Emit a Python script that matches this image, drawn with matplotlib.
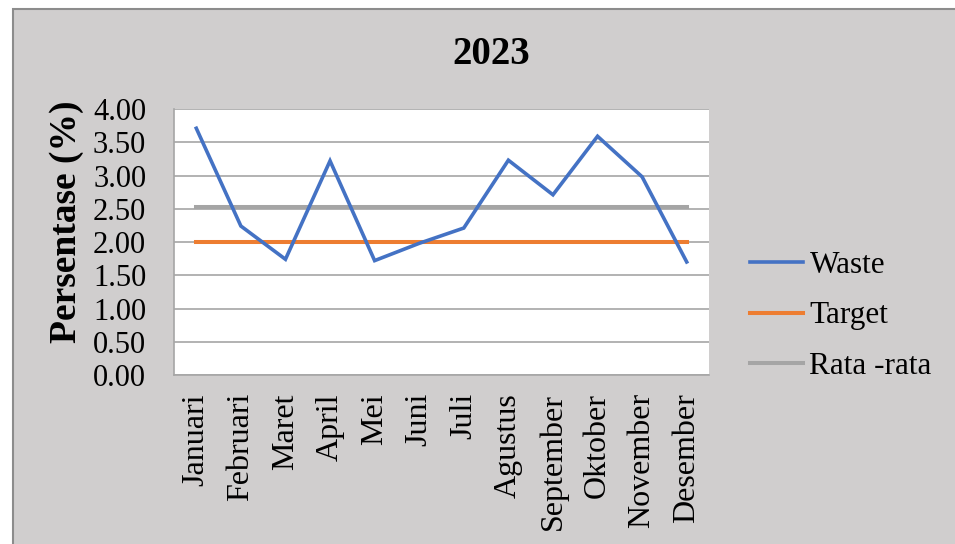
import matplotlib
matplotlib.use("Agg")
import matplotlib.pyplot as plt
from matplotlib.patches import Rectangle

months = ["Januari", "Februari", "Maret", "April", "Mei", "Juni", "Juli",
          "Agustus", "September", "Oktober", "November", "Desember"]
waste = [3.71, 2.24, 1.74, 3.22, 1.72, 1.98, 2.21, 3.23, 2.71, 3.59, 2.98, 1.70]
target = [2.00] * 12
rata = [2.52] * 12
yticks = [0.0, 0.5, 1.0, 1.5, 2.0, 2.5, 3.0, 3.5, 4.0]

plt.rcParams['font.family'] = ['Liberation Serif', 'DejaVu Serif']

W, H = 955, 544
fig = plt.figure(figsize=(W / 100, H / 100), dpi=100)
fig.patch.set_facecolor('white')
bg = Rectangle((13 / W, -0.01), 1.02 - 13 / W, 1.01 - 9 / H, transform=fig.transFigure,
               facecolor='#D0CECE', edgecolor='#8C8C8C', linewidth=1.5, zorder=-5)
fig.add_artist(bg)

ax = fig.add_axes([174 / W, 1 - 375 / H, (709 - 174) / W, (375 - 109) / H])
ax.set_zorder(2)
ax.set_facecolor('white')
x = list(range(len(months)))
ax.plot(x, waste, color='#4472C4', lw=2.6, label='Waste', zorder=4, solid_joinstyle='miter')
ax.plot(x, target, color='#ED7D31', lw=2.9, label='Target', zorder=3)
ax.plot(x, rata, color='#A5A5A5', lw=2.9, label='Rata -rata', zorder=3)

ax.set_xlim(-0.5, 11.5)
ax.set_ylim(0, 4)
ax.set_yticks(yticks)
ax.set_yticklabels([f"{v:.2f}" for v in yticks], fontsize=22)
ax.set_xticks(x)
ax.set_xticklabels(months, rotation=90, fontsize=23, va='top', ha='center')
ax.tick_params(axis='y', length=0, pad=20)
ax.tick_params(axis='x', length=0, pad=13)
ax.grid(axis='y', color='#A6A6A6', lw=1.2, zorder=1)
ax.set_axisbelow(True)
for s in ['right', 'top']:
    ax.spines[s].set_visible(False)
for s in ['left', 'bottom']:
    ax.spines[s].set_color('#A6A6A6')
    ax.spines[s].set_linewidth(1.2)

fig.text(491 / W, 1 - 54 / H, "2023", fontsize=28, fontweight='bold', ha='center', va='center')
fig.text(67 / W, 1 - 222 / H, "Persentase (%)", fontsize=27, fontweight='bold',
         rotation=90, ha='center', va='center')

leg = fig.legend(loc='center left', bbox_to_anchor=(750 / W, 1 - 316 / H), frameon=False,
                 fontsize=22.5, handlelength=1.7, handletextpad=0.2, labelspacing=0.68,
                 borderaxespad=0, borderpad=0)

fig.savefig("out.png", dpi=100, facecolor=fig.get_facecolor())
